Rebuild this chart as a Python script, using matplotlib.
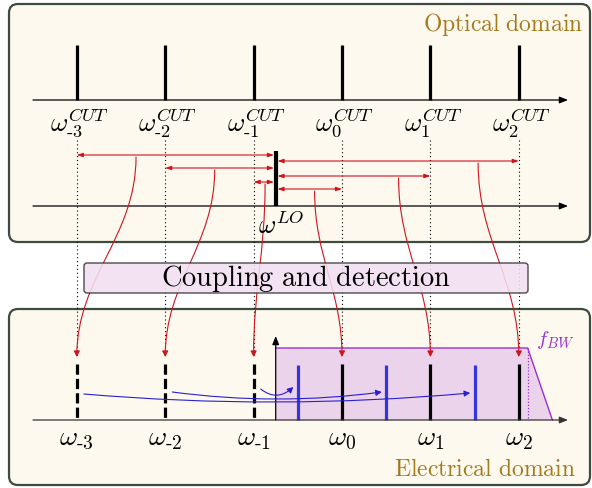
import numpy as np
import matplotlib.pyplot as plt
from matplotlib.patches import FancyBboxPatch, FancyArrowPatch, Polygon
from matplotlib.path import Path

plt.rcParams['mathtext.fontset'] = 'cm'
plt.rcParams['font.family'] = 'serif'
plt.rcParams['font.serif'] = ['DejaVu Serif']

# frequencies in units of the comb spacing (optical axis), LO between -1 and 0
comb_n = [-3, -2, -1, 0, 1, 2]
lo_freq = -0.75
f_bw = 2.85          # detector bandwidth, measured from the LO
f_rolloff = 3.13     # end of the roll-off slope

optical_labels = [r'$\omega_{\text{-}3}^{CUT}$', r'$\omega_{\text{-}2}^{CUT}$', r'$\omega_{\text{-}1}^{CUT}$',
                  r'$\omega_{0}^{CUT}$', r'$\omega_{1}^{CUT}$', r'$\omega_{2}^{CUT}$']
electrical_labels = [r'$\omega_{\text{-}3}$', r'$\omega_{\text{-}2}$', r'$\omega_{\text{-}1}$',
                     r'$\omega_{0}$', r'$\omega_{1}$', r'$\omega_{2}$']

# layout (pixel rows) and where each red coupling curve leaves its LO arrow
arrow_rows = [156, 169, 183, 190, 177, 162]
curve_start = [-2.33, -1.44, -0.87, -0.31, 0.64, 1.54]

PX0, DPX = 342.0, 88.4   # pixel position of n=0 and pixels per comb spacing
W, H = 592, 489

RED = '#d0141e'
BLUE = '#2a1fd0'
PURPLE = '#9b2fd6'
GOLD = '#a47a1c'
CREAM = '#fdf9ee'
EDGE = '#3d4b40'

fig = plt.figure(figsize=(W / 100, H / 100), dpi=100)
ax = fig.add_axes([0, 0, 1, 1])
ax.set_xlim(-PX0 / DPX, (W - PX0) / DPX)
ax.set_ylim(H, 0)
ax.axis('off')


def px(p):
    # pixel column -> axis units
    return (p - PX0) / DPX


def box(x0, y0, x1, y1, fc, ec, lw, r, z, alpha=1.0):
    b = FancyBboxPatch((px(x0), y0), px(x1) - px(x0), y1 - y0,
                       boxstyle=f"round,pad=0,rounding_size={r / DPX}",
                       mutation_aspect=DPX, fc=fc, ec=ec, lw=lw, zorder=z, alpha=alpha)
    ax.add_patch(b)


def axis_arrow(y, z=3, color='black'):
    ax.annotate('', xy=(px(568), y), xytext=(px(33), y),
                arrowprops=dict(arrowstyle='-|>,head_length=0.5,head_width=0.2', color=color,
                                lw=0.9, shrinkA=0, shrinkB=0), zorder=z)


# domain boxes
box(9, 5, 590, 243, CREAM, EDGE, 1.6, 9, 0)
box(9, 310, 590, 486, CREAM, EDGE, 1.6, 9, 0)
ax.text(px(583), 25, r'$\mathrm{Optical\ domain}$', color=GOLD, fontsize=17, ha='right', va='center')
ax.text(px(576), 470, r'$\mathrm{Electrical\ domain}$', color=GOLD, fontsize=17, ha='right', va='center')

# ---- optical domain ----
axis_arrow(101)
axis_arrow(207)
for n, lab in zip(comb_n, optical_labels):
    ax.plot([n, n], [46, 101], color='black', lw=2.3, solid_capstyle='butt', zorder=3)
    ax.text(n + 0.03, 123, lab, fontsize=19, ha='center', va='center', zorder=4)
    ax.plot([n, n], [141, 358], color='black', lw=0.8, ls=(0, (1, 2.5)), zorder=1)

ax.plot([lo_freq, lo_freq], [152, 207], color='black', lw=3, solid_capstyle='butt', zorder=4)
ax.text(lo_freq + 0.06, 225, r'$\omega^{LO}$', fontsize=19, ha='center', va='center', zorder=4)

for n, row, xs in zip(comb_n, arrow_rows, curve_start):
    ax.annotate('', xy=(n, row), xytext=(lo_freq + (0.02 if n > lo_freq else -0.02), row),
                arrowprops=dict(arrowstyle='<|-|>,head_length=0.35,head_width=0.12', color=RED,
                                lw=0.8, shrinkA=0, shrinkB=0), zorder=3)
    y0, y1 = row + 2, 358
    verts = [(xs, y0), (xs, y0 + 0.4 * (y1 - y0)), (n, y0 + 0.6 * (y1 - y0)), (n, y1)]
    path = Path(verts, [Path.MOVETO, Path.CURVE4, Path.CURVE4, Path.CURVE4])
    ax.add_patch(FancyArrowPatch(path=path, arrowstyle='-|>,head_length=3.5,head_width=1.8',
                                 color=RED, lw=0.8, zorder=3, shrinkA=0, shrinkB=0))

# coupling box
box(84, 264, 528, 294, '#f1dff1', '#333333', 1.0, 3, 5, alpha=0.88)
ax.text(px(306), 278, r'$\mathrm{Coupling\ and\ detection}$', fontsize=20.5, ha='center', va='center',
        zorder=6)

# ---- electrical domain ----
axis_arrow(421, z=4, color='#333333')
ax.annotate('', xy=(lo_freq, 337), xytext=(lo_freq, 421),
            arrowprops=dict(arrowstyle='-|>,head_length=0.5,head_width=0.2', color='black',
                            lw=0.9, shrinkA=0, shrinkB=0), zorder=4)

bw_poly = Polygon([(lo_freq, 421), (lo_freq, 349), (lo_freq + f_bw, 349), (lo_freq + f_rolloff, 421)],
                  closed=True, fc='#ebd3eb', ec='none', zorder=1)
ax.add_patch(bw_poly)
ax.plot([lo_freq, lo_freq + f_bw, lo_freq + f_rolloff], [349, 349, 421], color=PURPLE, lw=1.0, zorder=2)
ax.plot([lo_freq + f_bw, lo_freq + f_bw], [349, 421], color=PURPLE, lw=0.9, ls=(0, (1, 1.5)), zorder=2)
ax.text(lo_freq + f_bw + 0.1, 340, r'$f_{BW}$', color=PURPLE, fontsize=15, ha='left', va='center')

for n, lab in zip(comb_n, electrical_labels):
    if n < lo_freq:
        ax.plot([n, n], [365, 421], color='black', lw=2.3, ls=(0, (3.2, 1.3)), zorder=3)
        image = 2 * lo_freq - n
        ax.plot([image, image], [366, 421], color='#3535dc', lw=2.3, solid_capstyle='butt', zorder=3)
    else:
        ax.plot([n, n], [365, 421], color='black', lw=2.3, solid_capstyle='butt', zorder=3)
    ax.text(n, 438, lab, fontsize=20, ha='center', va='center', zorder=4)

# folding of the negative beat notes onto positive frequencies
fold_start = [395, 393, 390]
fold_end = [394, 393, 388]
fold_dip = [403, 400, 396]
for n, ys, ye, yd in zip(comb_n[:3], fold_start, fold_end, fold_dip):
    xs = n + 0.08
    xe = 2 * lo_freq - n - 0.05
    yc = 2 * yd - (ys + ye) / 2
    path = Path([(xs, ys), ((xs + xe) / 2, yc), (xe, ye)], [Path.MOVETO, Path.CURVE3, Path.CURVE3])
    ax.add_patch(FancyArrowPatch(path=path, arrowstyle='-|>,head_length=3.5,head_width=1.8',
                                 color=BLUE, lw=0.8, zorder=4, shrinkA=0, shrinkB=0))

fig.savefig('out.png', dpi=100, facecolor='white')
